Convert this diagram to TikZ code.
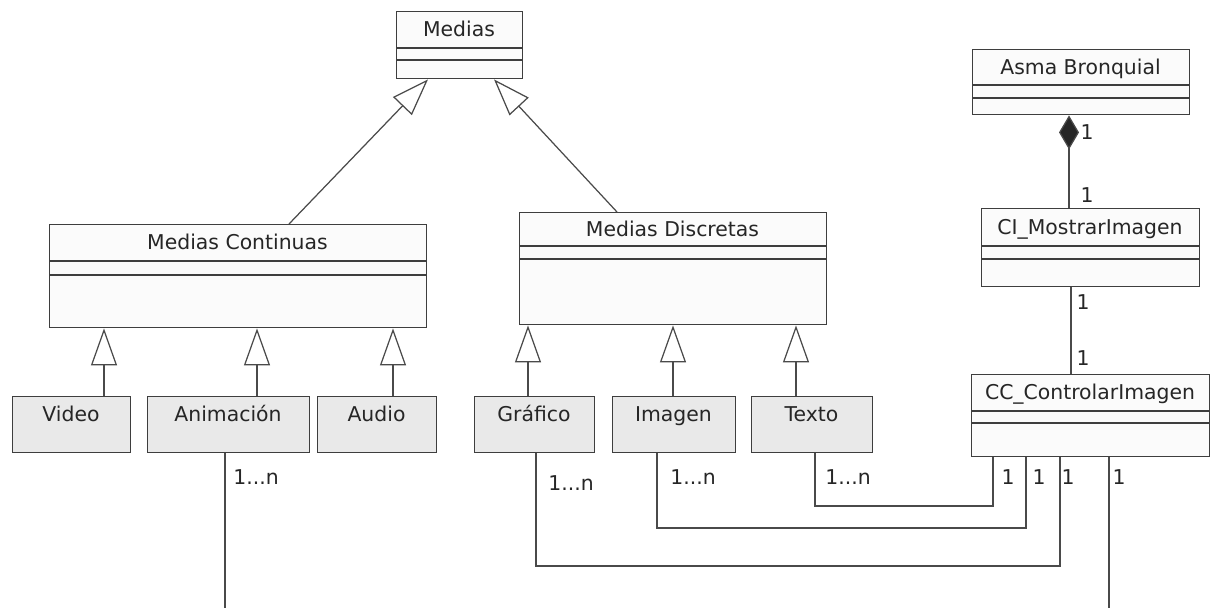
\documentclass[tikz,border=0pt]{standalone}
\usepackage{fontspec}
\setmainfont{DejaVu Sans}
\usetikzlibrary{arrows.meta}
\definecolor{edge}{HTML}{3E3E3E}
\definecolor{wire}{HTML}{4A4A4A}
\definecolor{leaffill}{HTML}{E9E9E9}
\definecolor{clsfill}{HTML}{FBFBFB}
\tikzset{
  clsbox/.style={draw=edge, fill=clsfill, line width=0.8pt, inner sep=0pt},
  leafbox/.style={draw=edge, fill=leaffill, line width=0.8pt, inner sep=0pt},
  clsline/.style={draw=edge, line width=0.8pt},
  lbl/.style={font=\fontsize{11.6}{13}\selectfont, text=black!85, inner sep=0pt, anchor=base},
  mult/.style={font=\fontsize{11.6}{13}\selectfont, text=black!85, inner sep=0pt},
  gen/.style={draw=wire, line width=0.7pt, -{Triangle[open, length=0.74cm, width=0.52cm, fill=white]}},
  comp/.style={draw=wire, line width=0.7pt, -{Diamond[length=0.68cm, width=0.40cm, fill=black!85]}},
  assoc/.style={draw=wire, line width=0.7pt},
}
% class with name compartment and two empty compartments:
% name, x1, y1, x2, y2, first divider, second divider, title
\newcommand\umlclassbox[8]{%
  \node[clsbox, anchor=north west, minimum width={(#4-#2)*0.02cm}, minimum height={(#5-#3)*0.02cm}] (#1) at (#2,#3) {};
  \draw[clsline] (#2,#6) -- (#4,#6) (#2,#7) -- (#4,#7);
  \node[lbl] (#1-name) at ({(#2+#4)/2},{(#3+#6)/2+7}) {#8};
}
% plain leaf class: name, x1, y1, x2, y2, title
\newcommand\umlleafbox[6]{%
  \node[leafbox, anchor=north west, minimum width={(#4-#2)*0.02cm}, minimum height={(#5-#3)*0.02cm}] (#1) at (#2,#3) {};
  \node[lbl] (#1-name) at ({(#2+#4)/2},{#3+25}) {#6};
}
\begin{document}
\begin{tikzpicture}[x=0.02cm, y=-0.02cm]
\useasboundingbox (0,0) rectangle (1213,608);
\fill[white] (0,0) rectangle (1213,608);
\clip (0,0) rectangle (1213,608);

% classes
\umlclassbox{medias}{396}{11}{522}{78}{48}{60}{Medias}
\umlclassbox{mc}{49}{224}{426}{327}{261}{275}{Medias Continuas}
\umlclassbox{md}{519}{212}{826}{324}{246}{259}{Medias Discretas}
\umlclassbox{asma}{972}{49}{1189}{114}{85}{98}{Asma Bronquial}
\umlclassbox{ci}{981}{208}{1199}{286}{246}{259}{CI\_MostrarImagen}
\umlclassbox{cc}{971}{374}{1209}{456}{411}{423}{CC\_ControlarImagen}

\umlleafbox{video}{12}{396}{130}{452}{Video}
\umlleafbox{anim}{147}{396}{309}{452}{Animación}
\umlleafbox{audio}{317}{396}{436}{452}{Audio}
\umlleafbox{graf}{474}{396}{594}{452}{Gráfico}
\umlleafbox{imag}{612}{396}{735}{452}{Imagen}
\umlleafbox{texto}{751}{396}{872}{452}{Texto}

% connector columns and rows
\coordinate (gA) at (289,0);  \coordinate (gB) at (428,0);
\coordinate (gC) at (617,0);  \coordinate (gD) at (494,0);
\coordinate (vx) at (104,0);  \coordinate (ax) at (257,0);  \coordinate (ux) at (393,0);
\coordinate (grx) at (528,0); \coordinate (imx) at (673,0); \coordinate (tex) at (796,0);
\coordinate (dx) at (1069,0); \coordinate (cx) at (1071,0);
\coordinate (l1) at (225,0);  \coordinate (l2) at (536,0);
\coordinate (l3) at (657,0);  \coordinate (l4) at (815,0);
\coordinate (c1) at (993,0);  \coordinate (c2) at (1026,0);
\coordinate (c3) at (1060,0); \coordinate (c4) at (1109,0);
\coordinate (r1) at (0,506);  \coordinate (r2) at (0,528);
\coordinate (r3) at (0,566);  \coordinate (r4) at (0,625);

% generalizations
\draw[gen] (mc.north -| gA) -- (medias.south -| gB);
\draw[gen] (md.north -| gC) -- (medias.south -| gD);
\draw[gen] (video.north -| vx) -- (mc.south -| vx);
\draw[gen] (anim.north -| ax) -- (mc.south -| ax);
\draw[gen] (audio.north -| ux) -- (mc.south -| ux);
\draw[gen] (graf.north -| grx) -- (md.south -| grx);
\draw[gen] (imag.north -| imx) -- (md.south -| imx);
\draw[gen] (texto.north -| tex) -- (md.south -| tex);

% composition and associations
\draw[comp] (ci.north -| dx) -- (asma.south -| dx);
\draw[assoc] (ci.south -| cx) -- (cc.north -| cx);
\draw[assoc] (texto.south -| l4) |- (r1 -| c1) -- (cc.south -| c1);
\draw[assoc] (imag.south -| l3) |- (r2 -| c2) -- (cc.south -| c2);
\draw[assoc] (graf.south -| l2) |- (r3 -| c3) -- (cc.south -| c3);
\draw[assoc] (anim.south -| l1) |- (r4 -| c4) -- (cc.south -| c4);

% multiplicities
\node[mult] (m-as1) at (1087,132) {1};
\node[mult] (m-as2) at (1087,195) {1};
\node[mult] (m-ci1) at (1083,302) {1};
\node[mult] (m-ci2) at (1083,358) {1};
\node[mult, anchor=west] (m-an) at (233,477) {1...n};
\node[mult, anchor=west] (m-gr) at (548,483) {1...n};
\node[mult, anchor=west] (m-im) at (670,477) {1...n};
\node[mult, anchor=west] (m-te) at (825,477) {1...n};
\node[mult] (m-c1) at (1008,477) {1};
\node[mult] (m-c2) at (1039,477) {1};
\node[mult] (m-c3) at (1068,477) {1};
\node[mult] (m-c4) at (1119,477) {1};
\end{tikzpicture}
\end{document}
